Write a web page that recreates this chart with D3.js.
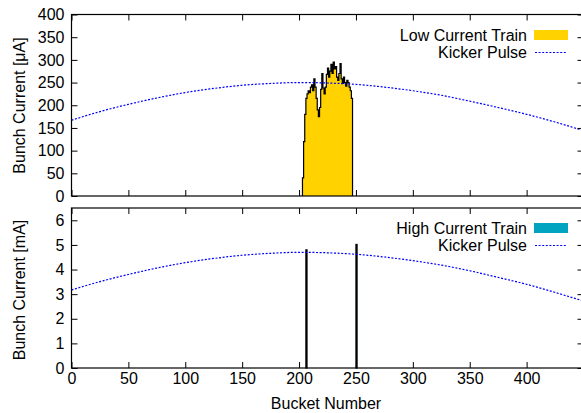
<!DOCTYPE html>
<html>
<head>
<meta charset="utf-8">
<script src="https://cdn.jsdelivr.net/npm/d3@7"></script>
<style>
  body { margin: 0; background: #fff; }
  text { font-family: "Liberation Sans", Arial, sans-serif; fill: #000; }
</style>
</head>
<body>
<div id="chart"></div>
<script>
// x ticks shared by both panels
var xTicks = [0, 50, 100, 150, 200, 250, 300, 350, 400];
var topTicks = [0, 50, 100, 150, 200, 250, 300, 350, 400];
var bottomTicks = [0, 1, 2, 3, 4, 5, 6];

// low current train, one value per bucket starting at lowStart (uA)
var lowStart = 203;
var lowValues = [40, 120, 180, 215, 225, 232, 228, 240, 245, 232,
                 258, 240, 215, 190, 175, 195, 235, 270, 238, 225,
                 240, 268, 282, 262, 275, 290, 270, 295, 280, 285,
                 262, 255, 270, 292, 258, 248, 262, 250, 242, 255,
                 250, 240, 232, 215];

// high current train: filled buckets (mA)
var highBuckets = [206, 250];
var highValues = [4.8, 5.02];

var kickBuckets = [0, 25, 50, 75, 100, 125, 150, 175, 200, 225, 250, 275, 300, 325, 350, 375, 400, 425, 450];
var kickTop = [167, 186, 202, 216, 228, 237, 244, 248, 250, 249, 246, 240, 232, 222, 209, 195, 180, 163, 144];
var kickBottom = [3.17, 3.51, 3.8, 4.06, 4.28, 4.45, 4.58, 4.66, 4.7, 4.68, 4.62, 4.51, 4.36, 4.18, 3.95, 3.68, 3.4, 3.07, 2.72];

var W = 581, H = 413;
var FS = "16px";
var svg = d3.select("#chart").append("svg")
    .attr("width", W).attr("height", H);

var x = d3.scaleLinear().domain([0, 450]).range([71.5, 583.5]);
var yTop = d3.scaleLinear().domain([0, 400]).range([196, 14.5]);
var yBot = d3.scaleLinear().domain([0, 6.5]).range([368, 208]);

var yellow = "#ffd200", teal = "#00a3c0", blue = "#0000ff";

function frame(y, ticks, cls, showX) {
    var g = svg.append("g");
    var top = y.range()[1], bot = y.range()[0];
    var clipId = "clip-" + cls;
    svg.append("clipPath").attr("id", clipId).append("rect")
        .attr("x", x.range()[0]).attr("y", top)
        .attr("width", x.range()[1] - x.range()[0]).attr("height", bot - top);

    // left axis with labels, ticks pointing in
    g.append("g").attr("transform", "translate(" + x.range()[0] + ",0)")
        .call(d3.axisLeft(y).tickValues(ticks).tickSize(-6).tickSizeOuter(0).tickPadding(7)
            .tickFormat(d3.format("d")))
        .call(function(a) { a.select(".domain").remove(); });
    // mirrored right axis
    g.append("g").attr("transform", "translate(" + x.range()[1] + ",0)")
        .call(d3.axisRight(y).tickValues(ticks).tickSize(-6).tickSizeOuter(0).tickFormat(""))
        .call(function(a) { a.select(".domain").remove(); });
    // bottom axis
    g.append("g").attr("transform", "translate(0," + bot + ")")
        .call(d3.axisBottom(x).tickValues(xTicks).tickSize(-6).tickSizeOuter(0).tickPadding(5)
            .tickFormat(showX ? d3.format("d") : ""))
        .call(function(a) { a.select(".domain").remove(); });
    // top mirrored axis
    g.append("g").attr("transform", "translate(0," + top + ")")
        .call(d3.axisTop(x).tickValues(xTicks).tickSize(-6).tickSizeOuter(0).tickFormat(""))
        .call(function(a) { a.select(".domain").remove(); });

    g.selectAll(".tick text").style("font-size", FS)
        .style("font-family", "Liberation Sans, Arial, sans-serif").attr("fill", "#000");
    g.selectAll(".tick line").attr("stroke", "#000");

    return { g: g, clip: "url(#" + clipId + ")" };
}

// ---- top panel ----
var lowPts = [[lowStart, 0]];
lowValues.forEach(function(v, i) { lowPts.push([lowStart + i, v]); });
lowPts.push([lowStart + lowValues.length, 0]);

var topPanel = svg.append("g");
topPanel.append("path")
    .datum(lowPts)
    .attr("fill", yellow)
    .attr("d", d3.area().curve(d3.curveStepAfter)
        .x(function(d) { return x(d[0]); })
        .y0(yTop(0))
        .y1(function(d) { return yTop(d[1]); }));
topPanel.append("path")
    .datum(lowPts)
    .attr("fill", "none").attr("stroke", "#000").attr("stroke-width", 1.2)
    .attr("d", d3.line().curve(d3.curveStepAfter)
        .x(function(d) { return x(d[0]); })
        .y(function(d) { return yTop(d[1]); }));

var fTop = frame(yTop, topTicks, "top", false);

topPanel.append("path")
    .datum(kickBuckets.map(function(b, i) { return [b, kickTop[i]]; }))
    .attr("clip-path", fTop.clip)
    .attr("fill", "none").attr("stroke", blue).attr("stroke-width", 1.2)
    .attr("stroke-dasharray", "2,1.6")
    .attr("d", d3.line().curve(d3.curveMonotoneX)
        .x(function(d) { return x(d[0]); })
        .y(function(d) { return yTop(d[1]); }));

// ---- bottom panel ----
var botPanel = svg.append("g");
botPanel.selectAll("rect.high")
    .data(highBuckets)
    .enter().append("rect")
    .attr("class", "high")
    .attr("x", function(d) { return x(d); })
    .attr("width", function(d) { return x(d + 1) - x(d); })
    .attr("y", function(d, i) { return yBot(highValues[i]); })
    .attr("height", function(d, i) { return yBot(0) - yBot(highValues[i]); })
    .attr("fill", teal).attr("stroke", "#000").attr("stroke-width", 1.2);

var fBot = frame(yBot, bottomTicks, "bot", true);

botPanel.append("path")
    .datum(kickBuckets.map(function(b, i) { return [b, kickBottom[i]]; }))
    .attr("clip-path", fBot.clip)
    .attr("fill", "none").attr("stroke", blue).attr("stroke-width", 1.2)
    .attr("stroke-dasharray", "2,1.6")
    .attr("d", d3.line().curve(d3.curveMonotoneX)
        .x(function(d) { return x(d[0]); })
        .y(function(d) { return yBot(d[1]); }));

// frames
[yTop, yBot].forEach(function(y) {
    svg.append("rect")
        .attr("x", x.range()[0]).attr("y", y.range()[1])
        .attr("width", x.range()[1] - x.range()[0])
        .attr("height", y.range()[0] - y.range()[1])
        .attr("fill", "none").attr("stroke", "#000").attr("stroke-width", 1.2);
});

// legends
function legend(yMid, label, color) {
    svg.append("text").attr("x", 527).attr("y", yMid).attr("dy", "0.35em")
        .attr("text-anchor", "end").style("font-size", FS).text(label);
    svg.append("rect").attr("x", 534).attr("y", yMid - 5).attr("width", 34).attr("height", 10)
        .attr("fill", color);
    svg.append("text").attr("x", 527).attr("y", yMid + 17).attr("dy", "0.35em")
        .attr("text-anchor", "end").style("font-size", FS).text("Kicker Pulse");
    svg.append("line").attr("x1", 535).attr("x2", 567)
        .attr("y1", yMid + 17.5).attr("y2", yMid + 17.5)
        .attr("stroke", blue).attr("stroke-width", 1).attr("stroke-dasharray", "2,1.6");
}
legend(35, "Low Current Train", yellow);
legend(228, "High Current Train", teal);

// axis titles
svg.append("text").attr("transform", "translate(25,105.5) rotate(-90)")
    .attr("text-anchor", "middle").style("font-size", FS).text("Bunch Current [μA]");
svg.append("text").attr("transform", "translate(25,290) rotate(-90)")
    .attr("text-anchor", "middle").style("font-size", FS).text("Bunch Current [mA]");
svg.append("text").attr("x", 326).attr("y", 409)
    .attr("text-anchor", "middle").style("font-size", FS).text("Bucket Number");
</script>
</body>
</html>
